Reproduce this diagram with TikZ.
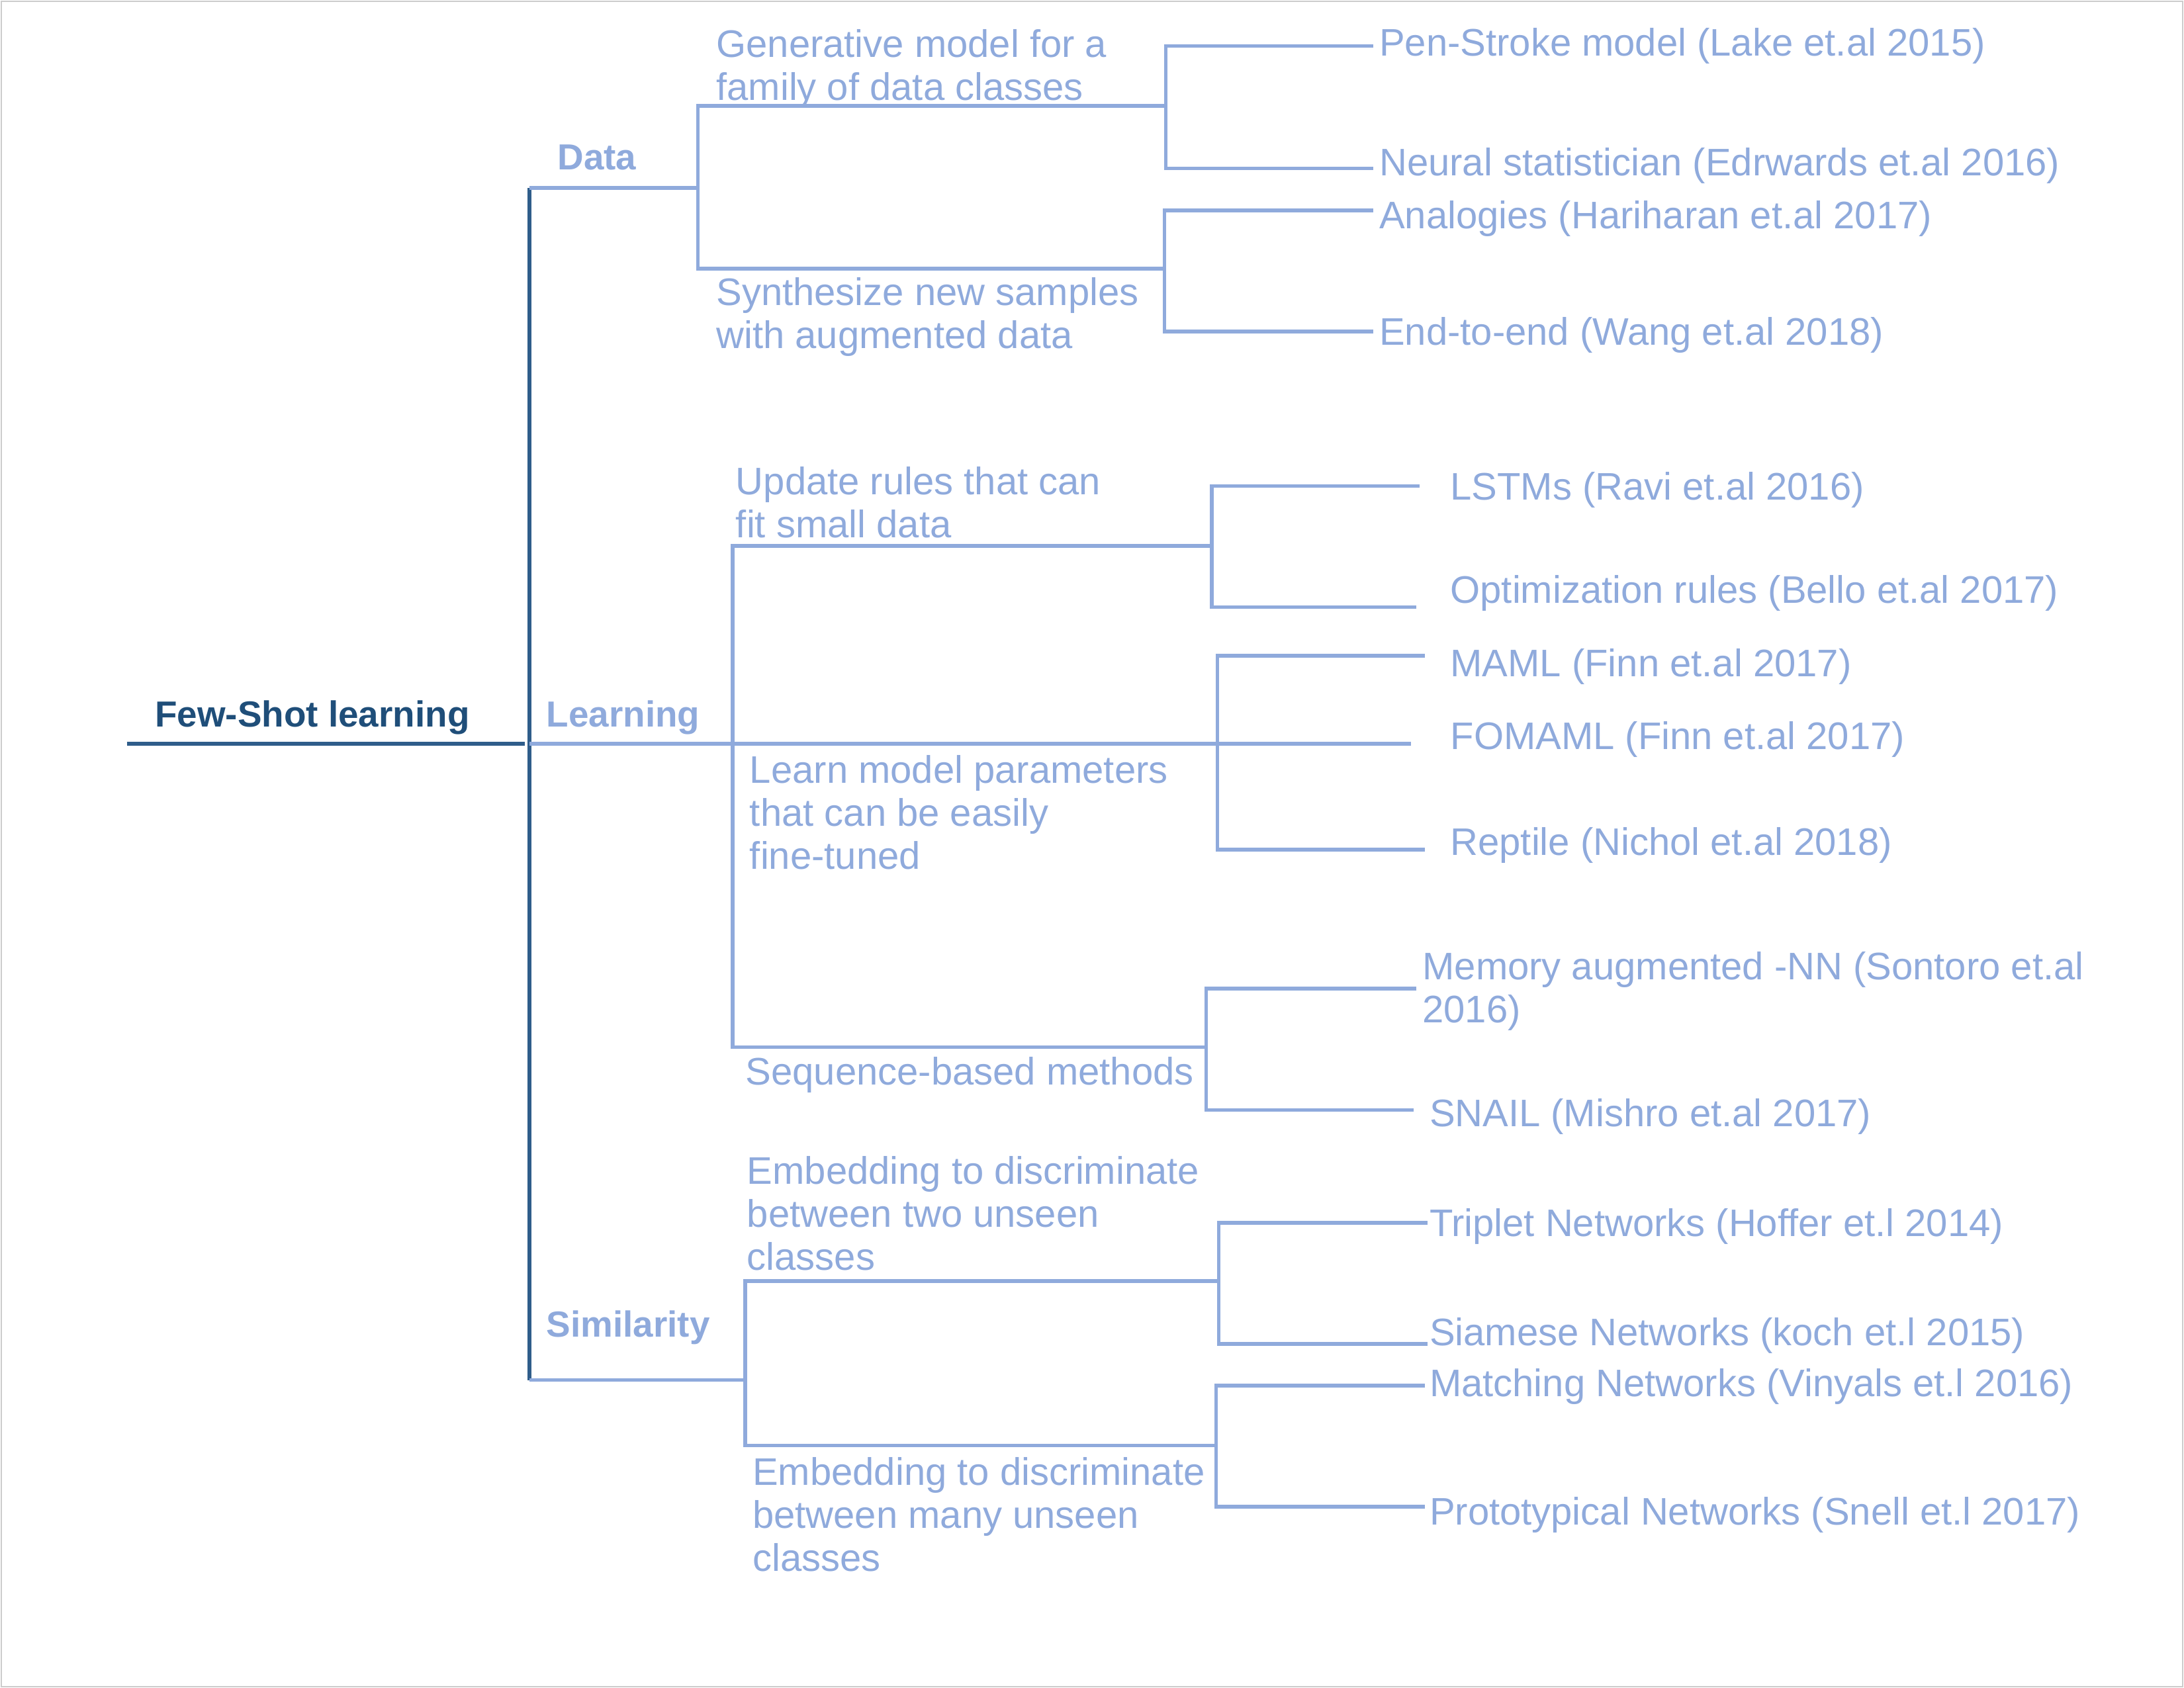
\documentclass[tikz,border=0pt]{standalone}
\usepackage{fontspec}
\setmainfont{Liberation Sans}
\usepackage{xcolor}
\usepackage{tikz}
\usetikzlibrary{positioning}
\definecolor{fsblue}{HTML}{8FAADC}
\definecolor{rootblue}{HTML}{1F4E79}
\definecolor{trunkblue}{HTML}{2F5D8A}

\begin{document}
\begin{tikzpicture}[
    x=0.21046mm, y=-0.21046mm,
    trunk/.style={draw=trunkblue, line width=1.6pt},
    branch/.style={draw=fsblue, line width=1.6pt},
    rootlabel/.style={text=rootblue, anchor=base west, inner sep=0pt,
        font=\fontsize{15.6}{18.5}\selectfont\bfseries},
    catlabel/.style={text=fsblue, anchor=base west, inner sep=0pt,
        font=\fontsize{15.6}{18.5}\selectfont\bfseries},
    groupbox/.style={text=fsblue, anchor=north west, inner sep=0pt, align=left,
        font=\fontsize{16.5}{18.5}\selectfont},
    leaf/.style={text=fsblue, anchor=base west, inner sep=0pt, align=left,
        font=\fontsize{16.5}{18.5}\selectfont}
]
\useasboundingbox (0,0) rectangle (1568,1212);
\draw[black!20, line width=0.2mm] (1,1) rectangle (1567,1211);

% root and the three categories
\node[rootlabel] (root) at (111,522) {Few-Shot learning};
\node[catlabel] (data) at (400,122) {Data};
\node[catlabel] (learning) at (392,522) {Learning};
\node[catlabel] (similarity) at (392,960) {Similarity};

% second level
\node[groupbox] (gen) at (514,21) {Generative model for a\\family of data classes};
\node[groupbox] (syn) at (514,199) {Synthesize new samples\\with augmented data};
\node[groupbox] (upd) at (528,335) {Update rules that can\\fit small data};
\node[groupbox] (lmp) at (538,542) {Learn model parameters\\that can be easily\\fine-tuned};
\node[leaf] (seq) at (535,779) {Sequence-based methods};
\node[groupbox] (embtwo) at (536,830) {Embedding to discriminate\\between two unseen\\classes};
\node[groupbox] (embmany) at (540,1046) {Embedding to discriminate\\between many unseen\\classes};

% methods
\node[leaf] (pen) at (990,40) {Pen-Stroke model (Lake et.al 2015)};
\node[leaf] (neural) at (990,126) {Neural statistician (Edrwards et.al 2016)};
\node[leaf] (analog) at (990,164) {Analogies (Hariharan et.al 2017)};
\node[leaf] (endtoend) at (990,248) {End-to-end (Wang et.al 2018)};
\node[leaf] (lstm) at (1041,359) {LSTMs (Ravi et.al 2016)};
\node[leaf] (optim) at (1041,433) {Optimization rules (Bello et.al 2017)};
\node[leaf] (maml) at (1041,486) {MAML (Finn et.al 2017)};
\node[leaf] (fomaml) at (1041,538) {FOMAML (Finn et.al 2017)};
\node[leaf] (reptile) at (1041,614) {Reptile (Nichol et.al 2018)};
\node[groupbox] (memory) at (1021,683) {Memory augmented -NN (Sontoro et.al\\2016)};
\node[leaf] (snail) at (1026,809) {SNAIL (Mishro et.al 2017)};
\node[leaf] (triplet) at (1026,888) {Triplet Networks (Hoffer et.l 2014)};
\node[leaf] (siamese) at (1026,966) {Siamese Networks (koch et.l 2015)};
\node[leaf] (matching) at (1026,1003) {Matching Networks (Vinyals et.l 2016)};
\node[leaf] (proto) at (1026,1095) {Prototypical Networks (Snell et.l 2017)};

% joints of the tree
\coordinate (root-w) at (91,534);
\coordinate (root-e) at (377,534);
\coordinate (data-s) at (380,135);
\coordinate (data-e) at (501,135);
\coordinate (learn-s) at (380,534);
\coordinate (learn-e) at (1013,534);
\coordinate (sim-s) at (380,991);
\coordinate (sim-e) at (535,991);
\coordinate (gen-s) at (501,76);
\coordinate (gen-e) at (837,76);
\coordinate (syn-s) at (501,193);
\coordinate (syn-e) at (836,193);
\coordinate (upd-s) at (526,392);
\coordinate (upd-e) at (870,392);
\coordinate (lmp-e) at (874,534);
\coordinate (seq-s) at (526,752);
\coordinate (seq-e) at (866,752);
\coordinate (embtwo-s) at (535,920);
\coordinate (embtwo-e) at (875,920);
\coordinate (embmany-s) at (535,1038);
\coordinate (embmany-e) at (873,1038);
% free ends next to the methods
\coordinate (pen-l) at (986,33);
\coordinate (neural-l) at (986,121);
\coordinate (analog-l) at (986,151);
\coordinate (endtoend-l) at (986,238);
\coordinate (lstm-l) at (1019,349);
\coordinate (optim-l) at (1017,436);
\coordinate (maml-l) at (1023,471);
\coordinate (reptile-l) at (1023,610);
\coordinate (memory-l) at (1017,710);
\coordinate (snail-l) at (1015,797);
\coordinate (triplet-l) at (1025,878);
\coordinate (siamese-l) at (1025,965);
\coordinate (matching-l) at (1023,995);
\coordinate (proto-l) at (1023,1082);

\draw[trunk] (root-w) -- (root-e);
\draw[trunk] (data-s) -- (sim-s);
\draw[branch] (data-s) -- (data-e);
\draw[branch] (learn-s) -- (learn-e);
\draw[branch] (sim-s) -- (sim-e);

\draw[branch] (gen-e) -- (gen-s) -- (syn-s) -- (syn-e);
\draw[branch] (pen-l) -| (gen-e) |- (neural-l);
\draw[branch] (analog-l) -| (syn-e) |- (endtoend-l);

\draw[branch] (upd-e) -- (upd-s) -- (seq-s) -- (seq-e);
\draw[branch] (lstm-l) -| (upd-e) |- (optim-l);
\draw[branch] (maml-l) -| (lmp-e) |- (reptile-l);
\draw[branch] (memory-l) -| (seq-e) |- (snail-l);

\draw[branch] (embtwo-e) -- (embtwo-s) -- (embmany-s) -- (embmany-e);
\draw[branch] (triplet-l) -| (embtwo-e) |- (siamese-l);
\draw[branch] (matching-l) -| (embmany-e) |- (proto-l);
\end{tikzpicture}
\end{document}
